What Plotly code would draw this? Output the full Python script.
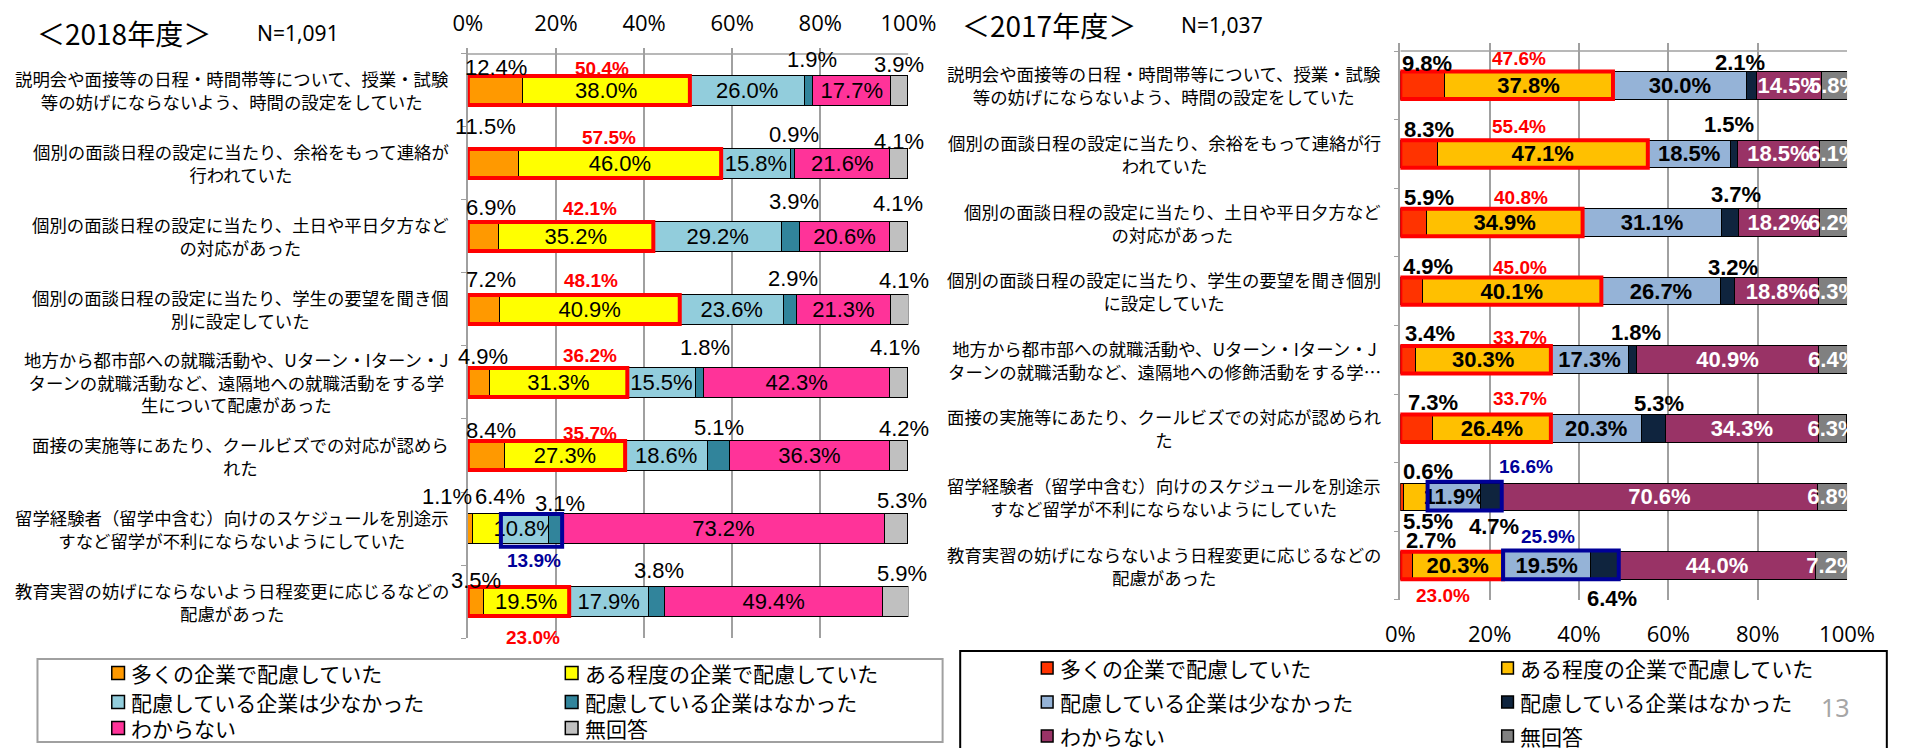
import plotly.graph_objects as go

W, H = 1907, 748

series = ["多くの企業で配慮していた", "ある程度の企業で配慮していた", "配慮している企業は少なかった",
          "配慮している企業はなかった", "わからない", "無回答"]

cats_2018 = [
    "説明会や面接等の日程・時間帯等について、授業・試験<br>等の妨げにならないよう、時間の設定をしていた",
    "個別の面談日程の設定に当たり、余裕をもって連絡が<br>行われていた",
    "個別の面談日程の設定に当たり、土日や平日夕方など<br>の対応があった",
    "個別の面談日程の設定に当たり、学生の要望を聞き個<br>別に設定していた",
    "地方から都市部への就職活動や、Uターン・Iターン・J<br>ターンの就職活動など、遠隔地への就職活動をする学<br>生について配慮があった",
    "面接の実施等にあたり、クールビズでの対応が認めら<br>れた",
    "留学経験者（留学中含む）向けのスケジュールを別途示<br>すなど留学が不利にならないようにしていた",
    "教育実習の妨げにならないよう日程変更に応じるなどの<br>配慮があった",
]
cats_2017 = [
    "説明会や面接等の日程・時間帯等について、授業・試験<br>等の妨げにならないよう、時間の設定をしていた",
    "個別の面談日程の設定に当たり、余裕をもって連絡が行<br>われていた",
    "個別の面談日程の設定に当たり、土日や平日夕方など<br>の対応があった",
    "個別の面談日程の設定に当たり、学生の要望を聞き個別<br>に設定していた",
    "地方から都市部への就職活動や、Uターン・Iターン・J<br>ターンの就職活動など、遠隔地への修飾活動をする学…",
    "面接の実施等にあたり、クールビズでの対応が認められ<br>た",
    "留学経験者（留学中含む）向けのスケジュールを別途示<br>すなど留学が不利にならないようにしていた",
    "教育実習の妨げにならないよう日程変更に応じるなどの<br>配慮があった",
]

v2018_many = [12.4, 11.5, 6.9, 7.2, 4.9, 8.4, 1.1, 3.5]
v2018_some = [38.0, 46.0, 35.2, 40.9, 31.3, 27.3, 6.4, 19.5]
v2018_few = [26.0, 15.8, 29.2, 23.6, 15.5, 18.6, 10.8, 17.9]
v2018_none = [1.9, 0.9, 3.9, 2.9, 1.8, 5.1, 3.1, 3.8]
v2018_unk = [17.7, 21.6, 20.6, 21.3, 42.3, 36.3, 73.2, 49.4]
v2018_na = [3.9, 4.1, 4.1, 4.1, 4.1, 4.2, 5.3, 5.9]

v2017_many = [9.8, 8.3, 5.9, 4.9, 3.4, 7.3, 0.6, 2.7]
v2017_some = [37.8, 47.1, 34.9, 40.1, 30.3, 26.4, 5.5, 20.3]
v2017_few = [30.0, 18.5, 31.1, 26.7, 17.3, 20.3, 11.9, 19.5]
v2017_none = [2.1, 1.5, 3.7, 3.2, 1.8, 5.3, 4.7, 6.4]
v2017_unk = [14.5, 18.5, 18.2, 18.8, 40.9, 34.3, 70.6, 44.0]
v2017_na = [5.8, 6.1, 6.2, 6.3, 6.4, 6.3, 6.8, 7.2]

# highlighted totals printed on the chart
red2018 = [50.4, 57.5, 42.1, 48.1, 36.2, 35.7, None, 23.0]
blue2018 = [None, None, None, None, None, None, 13.9, None]
red2017 = [47.6, 55.4, 40.8, 45.0, 33.7, 33.7, None, 23.0]
blue2017 = [None, None, None, None, None, None, 16.6, 25.9]

tick_vals = [0, 20, 40, 60, 80, 100]
tick_text = ["0%", "20%", "40%", "60%", "80%", "100%"]

# ---------------- styles ----------------
col2018 = ["#FF9900", "#FFFF00", "#92CDDC", "#31849B", "#FF3399", "#C0C0C0"]
col2017 = ["#FF3300", "#FFC000", "#95B3D7", "#0F243E", "#993366", "#808080"]
CJK = "Noto Sans CJK JP"
NUM = "Liberation Sans"

def px(x):
    return x / W

def py(y):
    return 1 - y / H

# outside label offsets (row, series, dx px from segment end, dy px down)
out2018 = [(0, 0, -26, -22.5), (1, 0, -33, -36.5), (2, 0, -7, -28.5), (3, 0, -9, -29.5),
           (4, 0, -6, -25.5), (5, 0, -14, -25.5), (6, 0, -26, -32.5), (7, 0, -7, -21.5),
           (6, 1, -1, -32.5),
           (0, 3, -1, -30.5), (1, 3, -1, -28.5), (2, 3, -5, -34.5), (3, 3, -3.5, -30.5),
           (4, 3, 1.5, -34.5), (5, 3, -11, -28.5), (6, 3, -2, -25.5), (7, 3, -6, -31.5),
           (0, 5, -8.5, -25.5), (1, 5, -8.5, -21.5), (2, 5, -9.5, -32.5), (3, 5, -4, -28.5),
           (4, 5, -12.5, -34.5), (5, 5, -3.5, -27.5), (6, 5, -6, -28.5), (7, 5, -6, -28.5)]
tot2018_pos = [(133.7, -21.5), (140.7, -25.5), (121.7, -27.5), (122.7, -28.5),
               (121.7, -26.5), (121.7, -22.5), (66.3, 31.5), (64.7, 35.5)]
out2017 = [(0, 0, -17, -22.3), (1, 0, -8, -24), (2, 0, 2, -25.5), (3, 0, 6, -25),
           (4, 0, 14, -26.7), (5, 0, 0, -26), (6, 0, 25, -25), (7, 0, 19, -25.5),
           (6, 1, 0, 25),
           (0, 3, -16, -23), (1, 3, -8, -29), (2, 3, -2, -28.5), (3, 3, -2, -24),
           (4, 3, 0, -27.7), (5, 3, -6, -25), (6, 3, -8, 30), (7, 3, -7, 32.5)]
red2017_pos = [(118.7, -27), (118.7, -27), (120.7, -25.5), (119.7, -24),
               (119.7, -22.7), (119.7, -30), None, (42.7, 29.5)]
blue2017_pos = [None] * 6 + [(125.2, -30), (147.7, -29.5)]

fig = go.Figure()
annotations = []
shapes = []

rows = list(range(8))

def add_chart(vals, colors, xa, ya, inside_idx, bold, white_idx):
    cum = []
    for r in rows:
        c, acc = [], 0.0
        for s in range(6):
            acc += vals[s][r]
            c.append(acc)
        cum.append(c)
    for s in range(6):
        txt = []
        for r in rows:
            v = vals[s][r]
            show = s in inside_idx and not (s == 1 and v < 8)
            txt.append(f"{v:.1f}%" if show else "")
        fcol = "white" if s in white_idx else "black"
        fig.add_trace(go.Bar(
            x=vals[s], y=rows, orientation="h", name=series[s],
            marker=dict(color=colors[s], line=dict(color="black", width=1)),
            width=0.4, xaxis=xa, yaxis=ya, showlegend=False,
            text=txt, textposition="inside", insidetextanchor="middle",
            textangle=0, cliponaxis=True, constraintext="none",
            insidetextfont=dict(family=NUM, size=22, color=fcol,
                                weight="bold" if bold else "normal"),
            hoverinfo="skip"))
    return cum

vals2018 = [v2018_many, v2018_some, v2018_few, v2018_none, v2018_unk, v2018_na]
vals2017 = [v2017_many, v2017_some, v2017_few, v2017_none, v2017_unk, v2017_na]

cum18 = add_chart(vals2018, col2018, "x", "y", {1, 2, 4}, False, set())
cum17 = add_chart(vals2017, col2017, "x2", "y2", {1, 2, 4, 5}, True, {4, 5})

def ann(x, y, text, xref, yref, size, color="black", bold=False, dx=0, dy=0, fam=NUM):
    annotations.append(dict(x=x, y=y, xref=xref, yref=yref, text=text, showarrow=False,
                            xanchor="center", yanchor="middle", xshift=dx, yshift=-dy,
                            font=dict(family=fam, size=size, color=color,
                                      weight="bold" if bold else "normal")))

# outside labels
for r, s, dx, dy in out2018:
    ann(cum18[r][s], r, f"{vals2018[s][r]:.1f}%", "x", "y", 22, dx=dx, dy=dy)
for r, s, dx, dy in out2017:
    ann(cum17[r][s], r, f"{vals2017[s][r]:.1f}%", "x2", "y2", 22, bold=True, dx=dx, dy=dy)

# totals & boxes
RED, BLUE = "#FF0000", "#000099"
for r in rows:
    dx, dy = tot2018_pos[r]
    if red2018[r] is not None:
        ann(0, r, f"{red2018[r]:.1f}%", "x", "y", 19, RED, True, dx, dy)
        shapes.append(dict(type="rect", xref="x", yref="y", x0=0, x1=cum18[r][1],
                           y0=r - 0.2, y1=r + 0.2, line=dict(color=RED, width=4), layer="above"))
    if blue2018[r] is not None:
        ann(0, r, f"{blue2018[r]:.1f}%", "x", "y", 19, BLUE, True, dx, dy)
        shapes.append(dict(type="rect", xref="x", yref="y", x0=cum18[r][1], x1=cum18[r][3],
                           y0=r - 0.2, y1=r + 0.25, line=dict(color=BLUE, width=4), layer="above"))
    if red2017[r] is not None:
        dx, dy = red2017_pos[r]
        ann(0, r, f"{red2017[r]:.1f}%", "x2", "y2", 19, RED, True, dx, dy)
        shapes.append(dict(type="rect", xref="x2", yref="y2", x0=0, x1=cum17[r][1],
                           y0=r - 0.2, y1=r + 0.2, line=dict(color=RED, width=4), layer="above"))
    if blue2017[r] is not None:
        dx, dy = blue2017_pos[r]
        ann(0, r, f"{blue2017[r]:.1f}%", "x2", "y2", 19, BLUE, True, dx, dy)
        shapes.append(dict(type="rect", xref="x2", yref="y2", x0=cum17[r][1], x1=cum17[r][3],
                           y0=r - 0.22, y1=r + 0.2, line=dict(color=BLUE, width=4), layer="above"))

# horizontal boundary line at top of category axis
for xr, yr in (("x", "y"), ("x2", "y2")):
    shapes.append(dict(type="line", xref=xr, yref=yr, x0=0, x1=100, y0=-0.5, y1=-0.5,
                       line=dict(color="#A0A0A0", width=1.5), layer="below"))

# category labels
for r in rows:
    annotations.append(dict(x=px(446), y=r, xref="paper", yref="y", text=cats_2018[r],
                            showarrow=False, xanchor="right", yanchor="middle", align="center",
                            font=dict(family=CJK, size=17.4, color="black")))
    annotations.append(dict(x=px(1400), y=r, xref="paper", yref="y2", text=cats_2017[r],
                            showarrow=False, xanchor="right", yanchor="middle", align="center",
                            font=dict(family=CJK, size=17.4, color="black")))

# titles
def pann(x, y, text, size, fam=CJK, color="black", xanchor="left"):
    annotations.append(dict(x=px(x), y=py(y), xref="paper", yref="paper", text=text,
                            showarrow=False, xanchor=xanchor, yanchor="middle",
                            font=dict(family=fam, size=size, color=color)))

pann(20, 33, "＜2018年度＞", 28)
pann(246, 33, "N=1,091", 21, "Noto Sans")
pann(967, 25, "＜2017年度＞", 28)
pann(1191, 25, "N=1,037", 21, "Noto Sans")
pann(1862, 707, "13", 25, "Noto Sans", "#A6A6A6", "center")

# legends
def legend(box, boxline, cols_x, rows_y, colors, msize):
    shapes.append(dict(type="rect", xref="paper", yref="paper", x0=px(box[0]), x1=px(box[1]),
                       y0=py(box[3]), y1=py(box[2]), line=boxline, fillcolor="rgba(0,0,0,0)"))
    for i, name in enumerate(series):
        cx = cols_x[i % 2]
        cy = rows_y[i // 2]
        shapes.append(dict(type="rect", xref="paper", yref="paper",
                           x0=px(cx), x1=px(cx + msize), y0=py(cy + msize / 2), y1=py(cy - msize / 2),
                           fillcolor=colors[i], line=dict(color="black", width=1.5)))
        pann(cx + msize + 5, cy, name, 21)

legend((23, 949, 659, 742), dict(color="#A0A0A0", width=2), (99, 563), (673, 702, 728), col2018, 13)
legend((967, 1915, 651, 760), dict(color="black", width=2), (1050, 1521), (668, 702, 736), col2017, 12)

axis_common = dict(range=[0, 100], tickvals=tick_vals, ticktext=tick_text, showgrid=True,
                   gridcolor="#A0A0A0", gridwidth=1.5, zeroline=False, ticks="",
                   tickfont=dict(family="Open Sans", size=22, color="black"), fixedrange=True)
yaxis_common = dict(showticklabels=False, showgrid=False, zeroline=False, showline=True,
                    linecolor="#A0A0A0", linewidth=1.5, ticks="outside", ticklen=5,
                    tickcolor="#A0A0A0", tickvals=[i - 0.5 for i in range(9)], fixedrange=True)

fig.update_layout(
    width=W, height=H, margin=dict(l=0, r=0, t=0, b=0),
    paper_bgcolor="white", plot_bgcolor="white",
    barmode="stack", showlegend=False,
    font=dict(family=CJK),
    uniformtext=dict(minsize=22, mode="show"),
    xaxis=dict(domain=[px(463.3), px(914)], anchor="y", side="top", ticklabelstandoff=12,
               **axis_common),
    yaxis=dict(domain=[py(638), py(48)], anchor="x", range=[7.5, -0.582], **yaxis_common),
    xaxis2=dict(domain=[px(1417.3), px(1874.3)], anchor="y2", side="bottom", ticklabelstandoff=19,
                **axis_common),
    yaxis2=dict(domain=[py(599.8), py(43)], anchor="x2", range=[7.5, -0.617], **yaxis_common),
    annotations=annotations, shapes=shapes,
)

fig.write_html("out.html")
